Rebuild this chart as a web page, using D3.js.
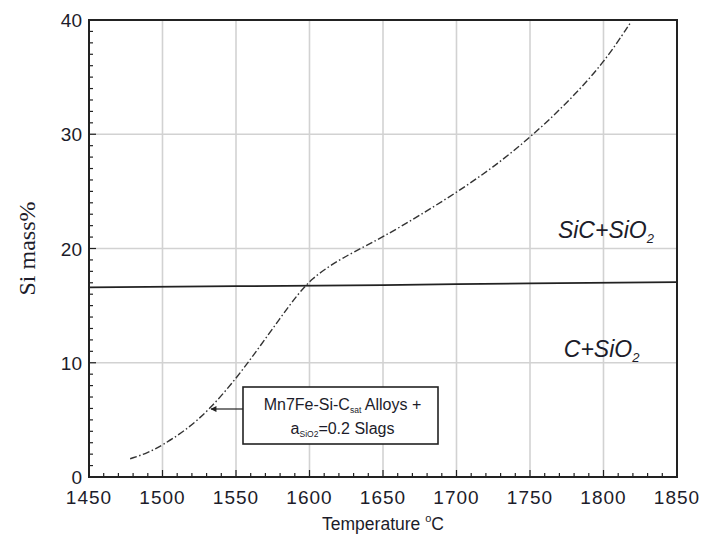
<!DOCTYPE html>
<html>
<head>
<meta charset="utf-8">
<script src="https://cdn.jsdelivr.net/npm/d3@7"></script>
<style>
  body { margin: 0; background: #fff; }
  text { font-family: Arial, "Liberation Sans", sans-serif; fill: #1c1c2a; }
</style>
</head>
<body>
<svg id="chart" width="707" height="546"></svg>
<script>
// boundary between the two phase fields (solid line)
const boundaryT = [1450, 1550, 1650, 1750, 1850];
const boundarySi = [16.6, 16.7, 16.8, 16.95, 17.05];

// Mn7Fe-Si-Csat alloys + aSiO2=0.2 slags (dash-dot curve)
const curveT =  [1478, 1490, 1500, 1515, 1532, 1550, 1565, 1580, 1592, 1602, 1615, 1630, 1650, 1675, 1700, 1725, 1750, 1775, 1800, 1818];
const curveSi = [1.6, 2.1, 2.8, 4.0, 5.9, 8.6, 11.2, 13.9, 16.0, 17.4, 18.6, 19.7, 21.0, 22.9, 24.9, 27.1, 29.7, 32.7, 36.2, 39.7];

const xTicks = [1450, 1500, 1550, 1600, 1650, 1700, 1750, 1800, 1850];
const yTicks = [0, 10, 20, 30, 40];

const svg = d3.select("#chart");
const margin = { left: 89, top: 20, right: 30, bottom: 69 };
const W = 707, H = 546;

const x = d3.scaleLinear().domain([1450, 1850]).range([margin.left, W - margin.right]);
const y = d3.scaleLinear().domain([0, 40]).range([H - margin.bottom, margin.top]);

// grid
const grid = svg.append("g").attr("stroke", "#d2d2d2").attr("stroke-width", 1.6);
grid.selectAll("line.vx").data(xTicks.slice(1, -1)).join("line")
  .attr("x1", d => x(d)).attr("x2", d => x(d))
  .attr("y1", y(0)).attr("y2", y(40));
grid.selectAll("line.hy").data(yTicks.slice(1, -1)).join("line")
  .attr("y1", d => y(d)).attr("y2", d => y(d))
  .attr("x1", x(1450)).attr("x2", x(1850));

// inward ticks
const ticks = svg.append("g").attr("stroke", "#222").attr("stroke-width", 1.2);
ticks.selectAll("line.xt").data(d3.range(1450, 1851, 10)).join("line")
  .attr("x1", d => x(d)).attr("x2", d => x(d))
  .attr("y1", y(0)).attr("y2", d => y(0) - (d % 50 === 0 ? 7 : 4));
ticks.selectAll("line.yt").data(d3.range(0, 41, 1)).join("line")
  .attr("y1", d => y(d)).attr("y2", d => y(d))
  .attr("x1", x(1450)).attr("x2", d => x(1450) + (d % 10 === 0 ? 7 : 4));

// frame
svg.append("rect")
  .attr("x", x(1450)).attr("y", y(40))
  .attr("width", x(1850) - x(1450)).attr("height", y(0) - y(40))
  .attr("fill", "none").attr("stroke", "#222").attr("stroke-width", 2);

// tick labels
svg.append("g").selectAll("text").data(xTicks).join("text")
  .attr("x", d => x(d)).attr("y", y(0) + 27)
  .attr("text-anchor", "middle").attr("font-size", 19).attr("letter-spacing", 1)
  .text(d => d);
svg.append("g").selectAll("text").data(yTicks).join("text")
  .attr("x", x(1450) - 7).attr("y", d => y(d) + 7)
  .attr("text-anchor", "end").attr("font-size", 19)
  .text(d => d);

// axis titles
svg.append("text")
  .attr("transform", `translate(35,${(y(0) + y(40)) / 2}) rotate(-90)`)
  .attr("text-anchor", "middle").attr("font-size", 24)
  .style("font-family", "'Liberation Serif', 'DejaVu Serif', serif")
  .text("Si mass%");
const xt = svg.append("text")
  .attr("x", (x(1450) + x(1850)) / 2).attr("y", 530)
  .attr("text-anchor", "middle").attr("font-size", 17.5);
xt.append("tspan").text("Temperature ");
xt.append("tspan").attr("font-size", 11).attr("dy", -8).text("o");
xt.append("tspan").attr("dy", 8).text("C");

// lines
const line = d3.line().x(d => x(d[0])).y(d => y(d[1]));
svg.append("path")
  .datum(boundaryT.map((t, i) => [t, boundarySi[i]]))
  .attr("d", line.curve(d3.curveMonotoneX)).attr("fill", "none")
  .attr("stroke", "#222").attr("stroke-width", 1.8);
svg.append("path")
  .datum(curveT.map((t, i) => [t, curveSi[i]]))
  .attr("d", d3.line().x(d => x(d[0])).y(d => y(d[1])).curve(d3.curveBasis))
  .attr("fill", "none").attr("stroke", "#333").attr("stroke-width", 1.4)
  .attr("stroke-dasharray", "7,2.5,1.5,2.5");

// region labels
function phaseLabel(tx, sy, a, b) {
  const t = svg.append("text")
    .attr("x", x(tx)).attr("y", y(sy))
    .attr("font-size", 23).attr("font-style", "italic");
  t.append("tspan").text(a);
  t.append("tspan").attr("font-size", 13).attr("dx", 0).attr("dy", 5).text(b);
}
phaseLabel(1769, 20.9, "SiC+SiO", "2");
phaseLabel(1773, 10.5, "C+SiO", "2");

// annotation box with arrow
const boxX0 = 243, boxX1 = 438, boxY0 = 387, boxY1 = 444;
svg.append("rect")
  .attr("x", boxX0).attr("y", boxY0)
  .attr("width", boxX1 - boxX0).attr("height", boxY1 - boxY0)
  .attr("fill", "#fff").attr("stroke", "#222").attr("stroke-width", 1.6);
svg.append("defs").append("marker")
  .attr("id", "arr").attr("viewBox", "0 0 10 10").attr("refX", 9).attr("refY", 5)
  .attr("markerWidth", 7).attr("markerHeight", 5).attr("orient", "auto")
  .append("path").attr("d", "M0,0L10,5L0,10z").attr("fill", "#222");
svg.append("line")
  .attr("x1", boxX0).attr("y1", 409)
  .attr("x2", x(1533)).attr("y2", 409)
  .attr("stroke", "#222").attr("stroke-width", 1.2)
  .attr("marker-end", "url(#arr)");

const cx = (boxX0 + boxX1) / 2 + 2;
const l1 = svg.append("text").attr("x", cx).attr("y", 410)
  .attr("text-anchor", "middle").attr("font-size", 16);
l1.append("tspan").text("Mn7Fe-Si-C");
l1.append("tspan").attr("font-size", 8.5).attr("dy", 3).text("sat");
l1.append("tspan").attr("dy", -3).text(" Alloys +");
const l2 = svg.append("text").attr("x", cx).attr("y", 434)
  .attr("text-anchor", "middle").attr("font-size", 16);
l2.append("tspan").text("a");
l2.append("tspan").attr("font-size", 8.5).attr("dy", 3).text("SiO2");
l2.append("tspan").attr("dy", -3).text("=0.2 Slags");
</script>
</body>
</html>
